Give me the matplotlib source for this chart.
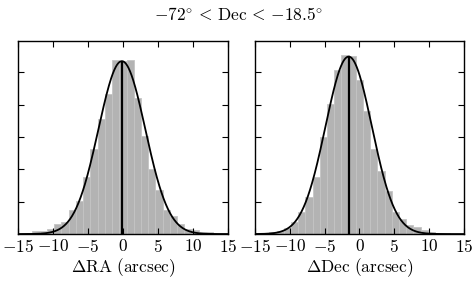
import numpy as np
import matplotlib
matplotlib.use('Agg')
import matplotlib.pyplot as plt

plt.rcParams['mathtext.fontset'] = 'cm'
plt.rcParams['font.family'] = 'serif'
plt.rcParams['font.serif'] = ['cmr10', 'DejaVu Serif']
plt.rcParams['axes.unicode_minus'] = False

# histogram bin edges (29 bins across the plotted range)
bin_edges = np.linspace(-15, 15, 30)

# bar heights (arbitrary units, y ticks at 1..5)
ra_counts = [0.03, 0.03, 0.09, 0.09, 0.15, 0.32, 0.38, 0.74, 1.02, 1.77,
             2.62, 3.55, 4.33, 5.39, 5.33, 5.37, 4.21, 3.02, 2.00, 1.36,
             0.74, 0.57, 0.31, 0.15, 0.11, 0.07, 0.07, 0.03, 0.03]
dec_counts = [0.03, 0.03, 0.07, 0.10, 0.20, 0.36, 0.67, 1.15, 1.77, 3.00,
              4.03, 5.06, 5.52, 5.49, 4.75, 3.80, 2.62, 1.95, 1.33, 0.69,
              0.45, 0.28, 0.21, 0.14, 0.07, 0.03, 0.02, 0.01, 0.00]

# gaussian fits: (centre, sigma, peak)
ra_fit = (-0.15, 3.35, 5.34)
dec_fit = (-1.55, 3.33, 5.48)

xticks = [-15, -10, -5, 0, 5, 10, 15]
yticks = [1, 2, 3, 4, 5]


def panel(ax, counts, fit, xlabel):
    centers = 0.5 * (bin_edges[:-1] + bin_edges[1:])
    width = bin_edges[1] - bin_edges[0]
    ax.bar(centers, counts, width=width, color='#b3b3b3',
           edgecolor='#c4c4c4', linewidth=0.6, zorder=1)
    mu, sig, amp = fit
    xx = np.linspace(-15, 15, 400)
    ax.plot(xx, amp * np.exp(-0.5 * ((xx - mu) / sig) ** 2),
            color='black', lw=1.3, zorder=3)
    ax.vlines(mu, 0, amp, color='black', lw=1.6, zorder=3)
    ax.set_xlim(-15, 15)
    ax.set_ylim(0, 5.96)
    ax.set_xticks(xticks, labels=[f'${t}$' for t in xticks])
    ax.set_yticks(yticks, labels=[])
    ax.tick_params(direction='in', top=True, right=True, length=4,
                   width=0.8, labelsize=12.5, pad=3)
    for s in ax.spines.values():
        s.set_linewidth(1.0)
    ax.set_xlabel(xlabel, fontsize=12.5, labelpad=1)


fig = plt.figure(figsize=(4.77, 2.82), dpi=100)
ax1 = fig.add_axes([0.0377, 0.170, 0.440, 0.6844])
ax2 = fig.add_axes([0.5346, 0.170, 0.438, 0.6844])

panel(ax1, ra_counts, ra_fit, r'$\Delta\mathrm{RA}\ (\mathrm{arcsec})$')
panel(ax2, dec_counts, dec_fit, r'$\Delta\mathrm{Dec}\ (\mathrm{arcsec})$')

fig.text(0.5, 0.95,
         r'$-72^{\circ}\,<\,\mathrm{Dec}\,<\,{-}18.5^{\circ}$',
         ha='center', va='center', fontsize=12.5)

plt.savefig('out.png', dpi=100)
